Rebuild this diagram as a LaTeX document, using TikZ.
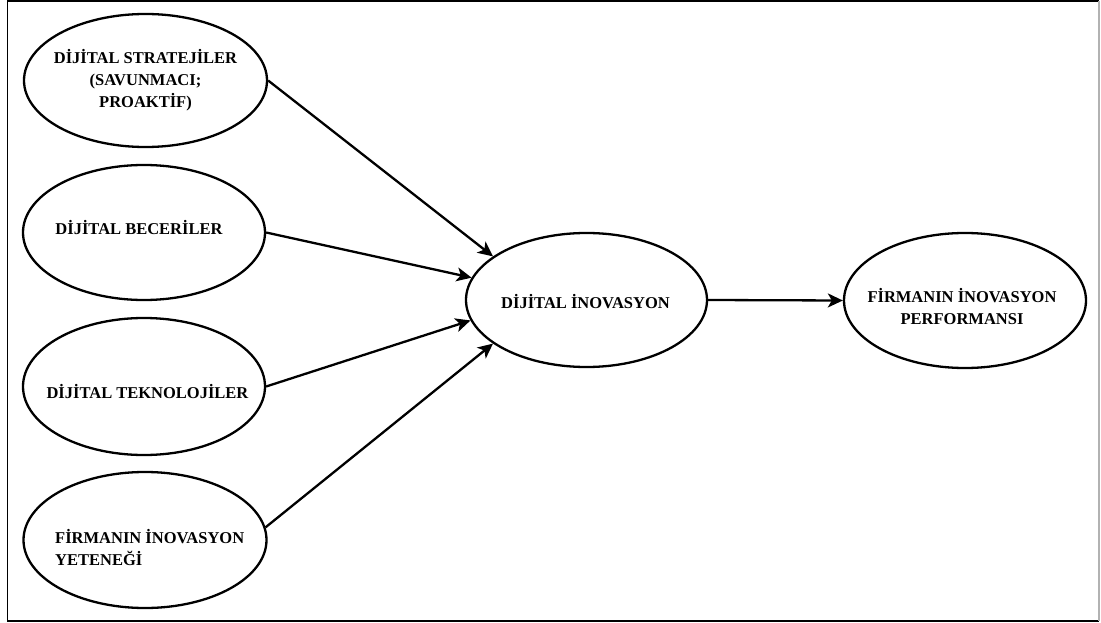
\documentclass[tikz,border=0pt]{standalone}
\usepackage{fontspec}
\setmainfont{Liberation Serif}
\usetikzlibrary{arrows.meta,shapes.geometric}

\begin{document}
\begin{tikzpicture}[x=1pt,y=-1pt,
  oval/.style={ellipse, draw=black, line width=2.3pt, fill=white,
               minimum width=242pt, minimum height=135pt, inner sep=0pt},
  lbl/.style={font=\fontsize{16.5}{22}\selectfont\bfseries, align=center,
              inner sep=0pt},
  lbll/.style={lbl, align=left},
  link/.style={line width=2.3pt, draw=black,
               -{Stealth[length=15pt,width=14pt,inset=4pt]}}]

  % page frame
  \useasboundingbox (0,0) rectangle (1101,623);
  \draw[line width=1.8pt, black] (1099,1) -- (7.5,1) -- (7.5,621) -- (1099,621);
  \draw[line width=1.2pt, black!30] (1099,1) -- (1099,621);

  % predictor constructs
  \node[oval, minimum width=243pt, minimum height=133pt] (e1) at (145.5,80.5) {};
  \node[lbl] (t1) at (145.5,80) {DİJİTAL STRATEJİLER\\(SAVUNMACI;\\PROAKTİF)};

  \node[oval] (e2) at (144,232.5) {};
  \node[lbl] (t2) at (139,228) {DİJİTAL BECERİLER};

  \node[oval, minimum height=137pt] (e3) at (144,386.5) {};
  \node[lbl] (t3) at (147.5,392) {DİJİTAL TEKNOLOJİLER};

  \node[oval, minimum width=243pt, minimum height=136pt] (e4) at (145,540) {};
  \node[lbll, anchor=west] (t4) at (55,548) {FİRMANIN İNOVASYON\\YETENEĞİ};

  % mediator and outcome
  \node[oval, minimum width=241pt, minimum height=134pt] (ci) at (586.5,300) {};
  \node[lbl] (tci) at (585.5,302) {DİJİTAL İNOVASYON};

  \node[oval] (fr) at (965,300.5) {};
  \node[lbl] (tfr) at (962,307) {FİRMANIN İNOVASYON\\PERFORMANSI};

  % paths
  \draw[link] (e1.east) -- (ci.155);
  \draw[link] (e2.east) -- (ci.169);
  \draw[link] (e3.east) -- (ci.190);
  \draw[link] (e4.6)    -- (ci.205);
  \draw[link] (ci.east) -- (fr.west);
\end{tikzpicture}
\end{document}
